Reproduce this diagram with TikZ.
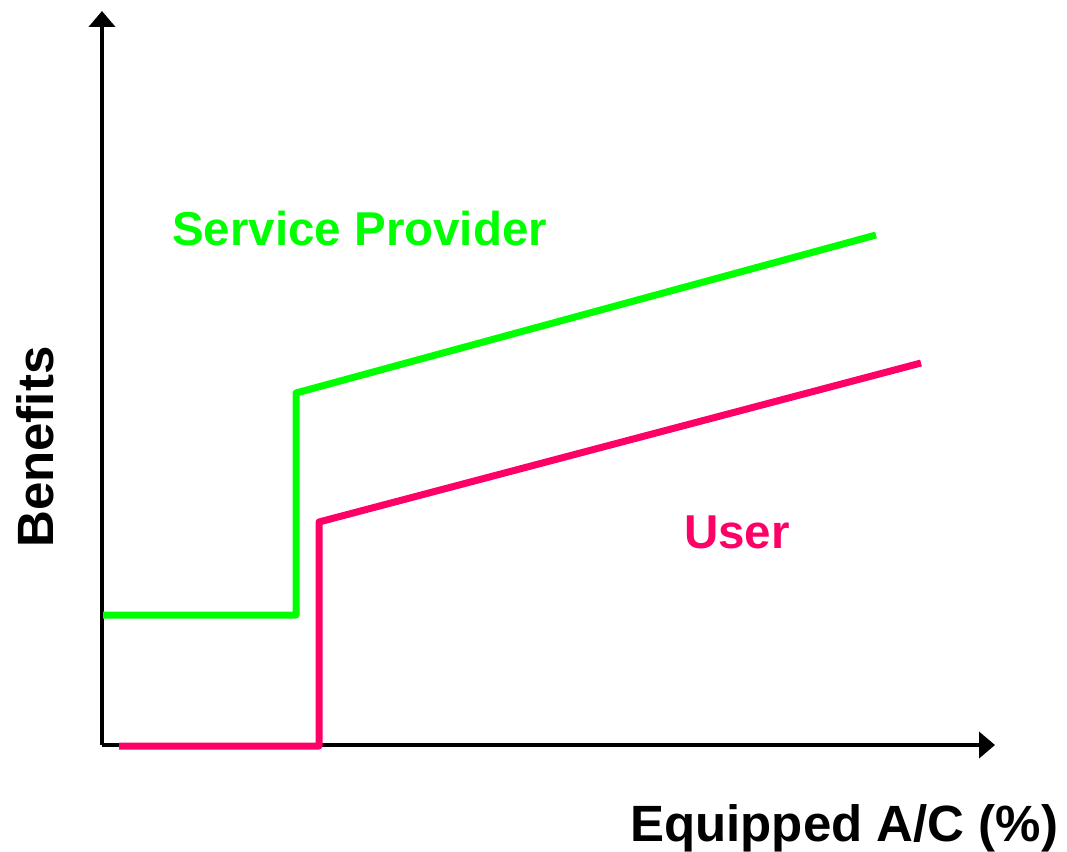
\documentclass[tikz,border=0pt]{standalone}
\usepackage{fontspec}
\setmainfont{Liberation Sans}
\usetikzlibrary{arrows.meta}
\definecolor{provgreen}{HTML}{00FF00}
\definecolor{userpink}{HTML}{FF0066}
\tikzset{
  axis/.style={line width=4pt, -{Triangle[length=16pt,width=26pt]}},
  curve/.style={line width=7pt, line join=round},
  label/.style={inner sep=0pt, font=\bfseries\fontsize{47.5}{57}\selectfont},
  axlabel/.style={inner sep=0pt, font=\bfseries\fontsize{51}{61}\selectfont},
}
\begin{document}
\begin{tikzpicture}[x=1pt,y=-1pt]
\useasboundingbox (0,0) rectangle (1067,851);
% axes
\coordinate (O) at (102,745);
\coordinate (ytip) at (102,11);
\coordinate (xtip) at (995,745);
\draw[axis] (O) -- (ytip);
\draw[axis] (O) -- (xtip);
% service provider benefit curve
\coordinate (g0) at (103,615);
\coordinate (g1) at (296,615);
\coordinate (g2) at (296,393);
\coordinate (g3) at (876,235);
\draw[curve, provgreen] (g0) -- (g1) -- (g2) -- (g3);
% user benefit curve
\coordinate (p0) at (119,746);
\coordinate (p1) at (319,746);
\coordinate (p2) at (319,522);
\coordinate (p3) at (921,363);
\draw[curve, userpink] (p0) -- (p1) -- (p2) -- (p3);
% labels
\node[label, text=provgreen, anchor=base west] (sp) at (172,245) {Service Provider};
\node[label, text=userpink, anchor=base west] (us) at (684,548) {User};
\node[axlabel, anchor=base west] (xl) at (630,841) {Equipped A/C (\%)};
\node[axlabel, anchor=base west, rotate=90] (yl) at (53,548) {Benefits};
\end{tikzpicture}
\end{document}
